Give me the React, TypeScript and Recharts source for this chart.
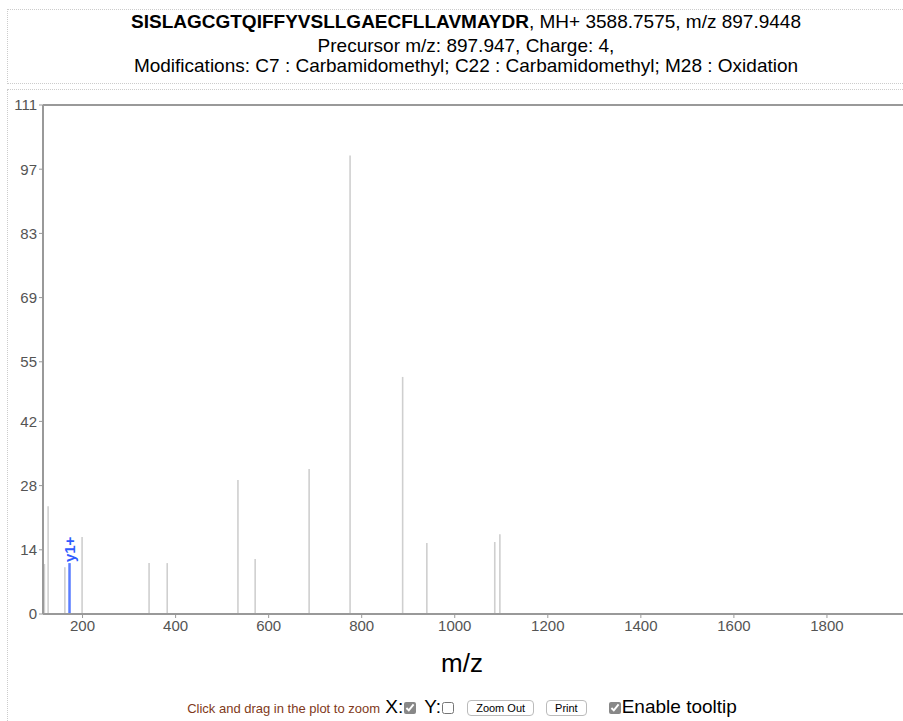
import React from "react";
import { ComposedChart, XAxis, YAxis, ReferenceLine, Scatter } from "recharts";

// peaks (m/z, relative intensity)
const peakMz = [118, 126, 162, 172, 199, 343, 382, 534, 571, 687, 775, 888, 940, 1086, 1097];
const peakIntensity = [10.9, 23.5, 10.2, 11.1, 16.8, 11.1, 11.1, 29.2, 12.0, 31.6, 100, 51.7, 15.5, 15.7, 17.4];
const peakLabels = ["", "", "", "y1+", "", "", "", "", "", "", "", "", "", "", ""];

const xTicks = [200, 400, 600, 800, 1000, 1200, 1400, 1600, 1800];
const yTicks = [0, 14, 28, 42, 55, 69, 83, 97, 111];

const peptide = "SISLAGCGTQIFFYVSLLGAECFLLAVMAYDR";
const headerTail = ", MH+ 3588.7575, m/z 897.9448";
const precursorLine = "Precursor m/z: 897.947, Charge: 4,";
const modsLine = "Modifications: C7 : Carbamidomethyl; C22 : Carbamidomethyl; M28 : Oxidation";

const peaks = peakMz.map((mz, i) => ({ mz, intensity: peakIntensity[i], label: peakLabels[i] }));

const AXIS = "#999";
const FONT = "'Liberation Sans', Arial, Helvetica, sans-serif";

const IonLabel = (props: any) => {
  const { viewBox, value } = props;
  const x = viewBox.x + 5;
  const y = viewBox.y - 1;
  return (
    <text x={x} y={y} transform={`rotate(-90, ${x}, ${y})`} fill="#2f5bff" fontSize={15} fontWeight={600} fontFamily={FONT}>
      {value}
    </text>
  );
};

const App: React.FC = () => {
  return (
    <div style={{ position: "fixed", left: 0, top: 0, width: 903, height: 721, overflow: "hidden", background: "#fff", fontFamily: FONT }}>
      <div style={{ position: "absolute", left: 7, top: 9, width: 916, height: 73, border: "1px dotted #ccc", textAlign: "center", color: "#000" }}>
        <div style={{ fontSize: 19, lineHeight: "22px", marginTop: 1 }}>
          <b>{peptide}</b>{headerTail}
        </div>
        <div style={{ fontSize: 19, lineHeight: "20px", marginTop: 3 }}>{precursorLine}</div>
        <div style={{ fontSize: 19, lineHeight: "20px" }}>{modsLine}</div>
      </div>
      <div style={{ position: "absolute", left: 7, top: 89, width: 916, height: 700, border: "1px dotted #ccc" }} />
      <div style={{ position: "absolute", left: 0, top: 95 }}>
        <ComposedChart width={920} height={560} data={peaks} margin={{ top: 10, right: 0, bottom: 0, left: 0 }}>
          <XAxis
            type="number"
            dataKey="mz"
            domain={[115, 2000]}
            ticks={xTicks}
            allowDataOverflow
            height={41}
            tickSize={4}
            tick={{ fill: "#545454", fontSize: 15, fontFamily: FONT }}
            axisLine={{ stroke: AXIS, strokeWidth: 2 }}
            tickLine={{ stroke: AXIS }}
          />
          <YAxis
            type="number"
            dataKey="intensity"
            domain={[0, 111]}
            ticks={yTicks}
            allowDataOverflow
            width={43}
            tickSize={4}
            tick={{ fill: "#545454", fontSize: 15, fontFamily: FONT }}
            axisLine={{ stroke: AXIS, strokeWidth: 2 }}
            tickLine={{ stroke: AXIS }}
          />
          <ReferenceLine y={111} stroke={AXIS} strokeWidth={2} />
          {peaks.map((p, i) => (
            <ReferenceLine
              key={`peak-${i}`}
              segment={[{ x: p.mz, y: 0 }, { x: p.mz, y: p.intensity }]}
              stroke={p.label ? "#5a7dff" : "#cfcfcf"}
              strokeWidth={p.label ? 2.5 : 1.6}
              label={p.label ? <IonLabel value={p.label} /> : undefined}
            />
          ))}
          <Scatter dataKey="intensity" isAnimationActive={false} shape={() => <g />} />
        </ComposedChart>
      </div>
      <div style={{ position: "absolute", left: 0, top: 647, width: 924, textAlign: "center", fontSize: 26, lineHeight: "32px", color: "#000" }}>
        m/z
      </div>
      <div style={{ position: "absolute", left: 0, top: 694, width: 924, textAlign: "center", whiteSpace: "nowrap", fontSize: 19, lineHeight: "26px", color: "#000" }}>
        <span style={{ fontSize: 13, color: "#7f3a1a" }}>Click and drag in the plot to zoom</span>
        <span> X:</span>
        <input type="checkbox" defaultChecked style={{ margin: "0 3px 0 1px", width: 12, height: 12, accentColor: "#888", verticalAlign: "-1px" }} />
        <span> Y:</span>
        <input type="checkbox" style={{ margin: "0 3px 0 1px", width: 12, height: 12, verticalAlign: "-1px" }} />
        <button style={{ fontSize: 11, fontFamily: FONT, margin: "0 6px 0 10px", padding: "1px 8px", background: "#fff", border: "1px solid #bbb", borderRadius: 4, verticalAlign: "1px" }}>Zoom Out</button>
        <button style={{ fontSize: 11, fontFamily: FONT, margin: "0 22px 0 6px", padding: "1px 8px", background: "#fff", border: "1px solid #bbb", borderRadius: 4, verticalAlign: "1px" }}>Print</button>
        <input type="checkbox" defaultChecked style={{ margin: "0 1px 0 0", width: 12, height: 12, accentColor: "#888", verticalAlign: "-1px" }} />
        <span>Enable tooltip</span>
      </div>
    </div>
  );
};

export default App;
